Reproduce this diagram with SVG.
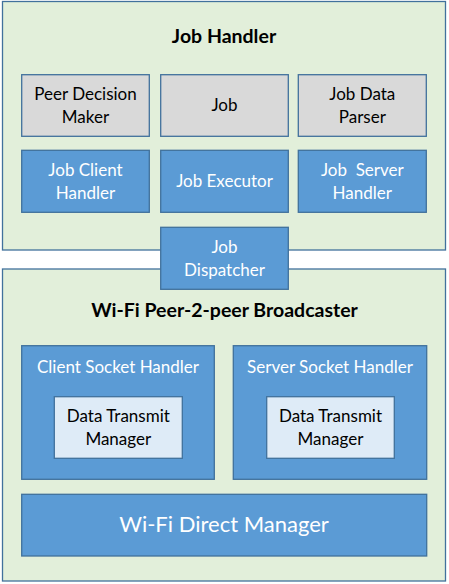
<svg xmlns="http://www.w3.org/2000/svg" width="449" height="584" viewBox="0 0 449 584">
<style>
.cont{fill:#E2EFDA;stroke:#41719C;stroke-width:1.3}
.blue{fill:#5B9BD5;stroke:#41719C;stroke-width:1.3}
.grey{fill:#D9D9D9;stroke:#41719C;stroke-width:1.3}
.lb{fill:#DEEBF7;stroke:#41719C;stroke-width:1.3}
text{font-family:"Lato","Liberation Sans",sans-serif;font-size:17px;text-anchor:middle}
.w{fill:#FFFFFF}
.k{fill:#000000}
.t{font-weight:bold;font-size:19.5px}
</style>
<rect width="449" height="584" fill="#FFFFFF"/>
<g id="job-handler">
<rect class="cont" x="2.5" y="1.5" width="443" height="248.5"/>
<text class="k t" x="224" y="43">Job Handler</text>
</g>
<g id="peer-decision-maker">
<rect class="grey" x="21.7" y="74.7" width="127.6" height="61.6"/>
<text class="k" x="85.5" y="100">Peer Decision</text>
<text class="k" x="85.5" y="123">Maker</text>
</g>
<g id="job">
<rect class="grey" x="160.7" y="74.7" width="127.6" height="61.6"/>
<text class="k" x="224.5" y="111">Job</text>
</g>
<g id="job-data-parser">
<rect class="grey" x="298.3" y="74.7" width="128" height="61.6"/>
<text class="k" x="362.3" y="100">Job Data</text>
<text class="k" x="362.3" y="123">Parser</text>
</g>
<g id="job-client-handler">
<rect class="blue" x="21.7" y="150.3" width="127.6" height="62"/>
<text class="w" x="85.5" y="176">Job Client</text>
<text class="w" x="85.5" y="199">Handler</text>
</g>
<g id="job-executor">
<rect class="blue" x="160.7" y="150.3" width="127.6" height="62"/>
<text class="w" x="224.5" y="187">Job Executor</text>
</g>
<g id="job-server-handler">
<rect class="blue" x="298.3" y="150.3" width="128" height="62"/>
<text class="w" x="362.3" y="176" xml:space="preserve">Job  Server</text>
<text class="w" x="362.3" y="199">Handler</text>
</g>
<g id="wifi-p2p-broadcaster">
<rect class="cont" x="2.5" y="269" width="443" height="312"/>
<text class="k t" x="224.5" y="317">Wi-Fi Peer-2-peer Broadcaster</text>
</g>
<g id="job-dispatcher">
<rect class="blue" x="160.7" y="227.3" width="127.6" height="62"/>
<text class="w" x="224.5" y="252.5">Job</text>
<text class="w" x="224.5" y="275.5">Dispatcher</text>
</g>
<g id="client-socket-handler">
<rect class="blue" x="21.7" y="345.7" width="192.6" height="133.6"/>
<text class="w" x="118" y="373">Client Socket Handler</text>
</g>
<g id="client-data-transmit-manager">
<rect class="lb" x="54.3" y="396.7" width="128" height="61.6"/>
<text class="k" x="118.3" y="422">Data Transmit</text>
<text class="k" x="118.3" y="444.5">Manager</text>
</g>
<g id="server-socket-handler">
<rect class="blue" x="233.3" y="345.7" width="193.4" height="133.6"/>
<text class="w" x="330" y="373">Server Socket Handler</text>
</g>
<g id="server-data-transmit-manager">
<rect class="lb" x="266.7" y="396.7" width="127.6" height="61.6"/>
<text class="k" x="330.5" y="422">Data Transmit</text>
<text class="k" x="330.5" y="444.5">Manager</text>
</g>
<g id="wifi-direct-manager">
<rect class="blue" x="21.7" y="494.3" width="405" height="61.7"/>
<text class="w" x="224" y="531.5" style="font-size:22px">Wi-Fi Direct Manager</text>
</g>
<g id="connectors"></g>
</svg>
